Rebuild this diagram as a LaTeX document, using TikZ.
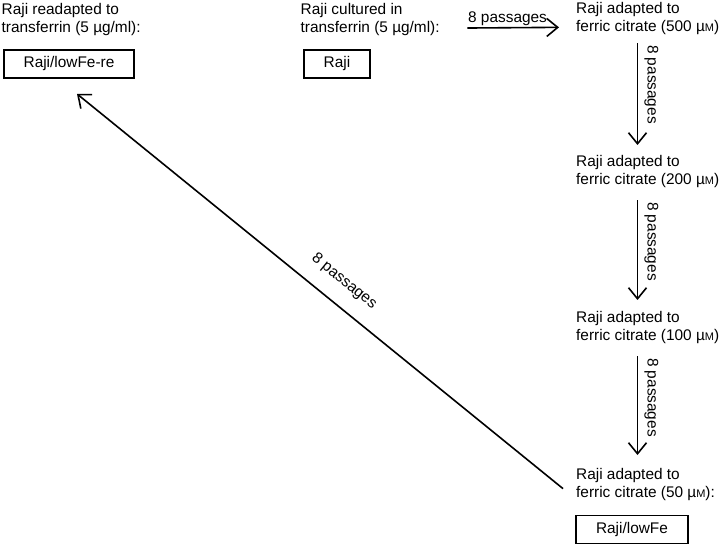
\documentclass[tikz,border=0pt]{standalone}
\usepackage{fontspec}
\setmainfont{Liberation Sans}
\usetikzlibrary{arrows.meta}
\tikzset{stage/.style={anchor=north west, align=left, inner sep=0pt, font=\fontsize{15.4}{18.5}\selectfont},
	cellline/.style={rectangle, draw=black, line width=1.8pt, minimum height=28pt, inner xsep=20pt, inner ysep=0pt, font=\fontsize{15.4}{18}\selectfont},
	pass/.style={line width=1.6pt, -{Straight Barb[length=11pt,width=18pt]}},
	passlabel/.style={inner sep=0pt, font=\fontsize{15.4}{18}\selectfont}}
\newcommand{\muM}{µ{\fontsize{11}{11}\selectfont M}}

\begin{document}
\begin{tikzpicture}[x=1pt,y=-1pt]
		\useasboundingbox (0,0) rectangle (720,545);
		\node[stage] (readapt) at (1.5,3) {Raji readapted to\\transferrin (5 µg/ml):};
		\node[stage] (cultured) at (300.5,3) {Raji cultured in\\transferrin (5 µg/ml):};
		\node[stage] (fc500) at (576,2) {Raji adapted to\\ferric citrate (500 \muM)};
		\node[stage] (fc200) at (576,155) {Raji adapted to\\ferric citrate (200 \muM)};
		\node[stage] (fc100) at (576,311) {Raji adapted to\\ferric citrate (100 \muM)};
		\node[stage] (fc50) at (576,468) {Raji adapted to\\ferric citrate (50 \muM):};
		\node[cellline] (lowfere) at (69,64) {Raji/lowFe-re};
		\node[cellline] (raji) at (337,64) {Raji};
		\node[cellline] (lowfe) at (632,529.5) {Raji/lowFe};
		\coordinate (col) at (637.5,0);
		\draw[pass, shorten <=27.5pt, shorten >=17pt] ([yshift=-8.6pt]cultured.east) -- node[pos=0, passlabel, anchor=south west, xshift=27.5pt, yshift=1.5pt]{8 passages} ([yshift=-8.6pt]fc500.west);
		\draw[pass, shorten <=8pt, shorten >=10pt] (fc500.south -| col) -- node[pos=0, passlabel, rotate=-90, anchor=south west, inner xsep=9pt, inner ysep=6pt]{8 passages} (fc200.north -| col);
		\draw[pass, shorten <=12pt, shorten >=11pt] (fc200.south -| col) -- node[pos=0, passlabel, rotate=-90, anchor=south west, inner xsep=13pt, inner ysep=6pt]{8 passages} (fc100.north -| col);
		\draw[pass, shorten <=12pt, shorten >=13pt] (fc100.south -| col) -- node[pos=0, passlabel, rotate=-90, anchor=south west, inner xsep=13pt, inner ysep=6pt]{8 passages} (fc50.north -| col);
		\draw[pass] ([shift={(-13,4)}]fc50.west) -- node[pos=0.48, sloped, above=15pt, passlabel]{8 passages} ([shift={(8,15)}]lowfere.south);
\end{tikzpicture}
\end{document}
